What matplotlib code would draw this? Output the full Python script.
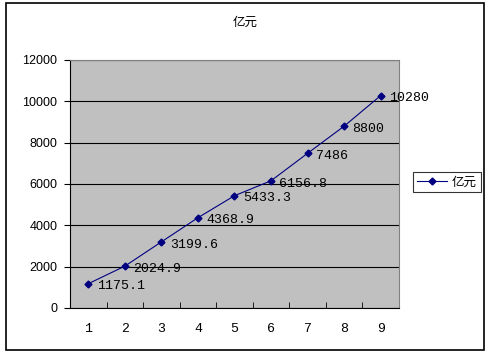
import matplotlib
matplotlib.use("Agg")
import matplotlib.pyplot as plt
from matplotlib.patches import Rectangle

plt.rcParams['font.family'] = ['Noto Sans CJK SC', 'DejaVu Sans']

categories = [1, 2, 3, 4, 5, 6, 7, 8, 9]
values = [1175.1, 2024.9, 3199.6, 4368.9, 5433.3, 6156.8, 7486, 8800, 10280]
value_labels = ["1175.1", "2024.9", "3199.6", "4368.9", "5433.3", "6156.8", "7486", "8800", "10280"]
series_name = "亿元"
yticks = [0, 2000, 4000, 6000, 8000, 10000, 12000]

fig = plt.figure(figsize=(4.91, 3.54), dpi=100)
fig.patch.set_facecolor("white")
fig.patches.append(Rectangle((6/491, 1-350/354), (484-6)/491, (350-3)/354,
                             transform=fig.transFigure, fill=False,
                             edgecolor="black", linewidth=1.2))

ax = fig.add_axes([70/491, 1-308/354, (399-70)/491, (308-60)/354])
ax.set_facecolor("#c0c0c0")
x = list(range(len(categories)))
ax.plot(x, values, color="#000080", linewidth=0.8, marker="D", markersize=3.5,
        markerfacecolor="#000080", markeredgecolor="#000080", label=series_name)
for xi, v, lab in zip(x, values, value_labels):
    ax.annotate(lab, (xi, v), xytext=(6, -2), textcoords="offset points",
                fontsize=9.5, family="Liberation Mono", va="center", ha="left")

ax.set_xlim(-0.5, len(categories) - 0.5)
ax.set_ylim(0, 12000)
ax.set_yticks(yticks)
ax.set_yticklabels([str(t) for t in yticks], fontsize=9, family="Liberation Sans")
ax.set_xticks(x)
ax.set_xticklabels([str(c) for c in categories], fontsize=9.5, family="Liberation Mono")
ax.set_xticks([i + 0.5 for i in range(len(categories) - 1)], minor=True)
ax.tick_params(axis="x", which="major", length=0, pad=11)
ax.tick_params(axis="x", which="minor", length=4, direction="in")
ax.tick_params(axis="y", length=4, direction="out", pad=5)
ax.yaxis.grid(True, color="black", linewidth=0.8)
ax.set_axisbelow(True)
for s in ["top", "right"]:
    ax.spines[s].set_color("#808080")
for s in ["left", "bottom"]:
    ax.spines[s].set_color("black")

fig.text(245/491, 1-22/354, "亿元", ha="center", va="center", fontsize=9)

leg = fig.legend(loc="center left", bbox_to_anchor=(407/491, 1-182/354),
                 fontsize=9, frameon=True, fancybox=False, handlelength=2.4,
                 borderpad=0.3, handletextpad=0.4)
leg.get_frame().set_edgecolor("black")
leg.get_frame().set_linewidth(0.8)

fig.savefig("out.png", dpi=100)
